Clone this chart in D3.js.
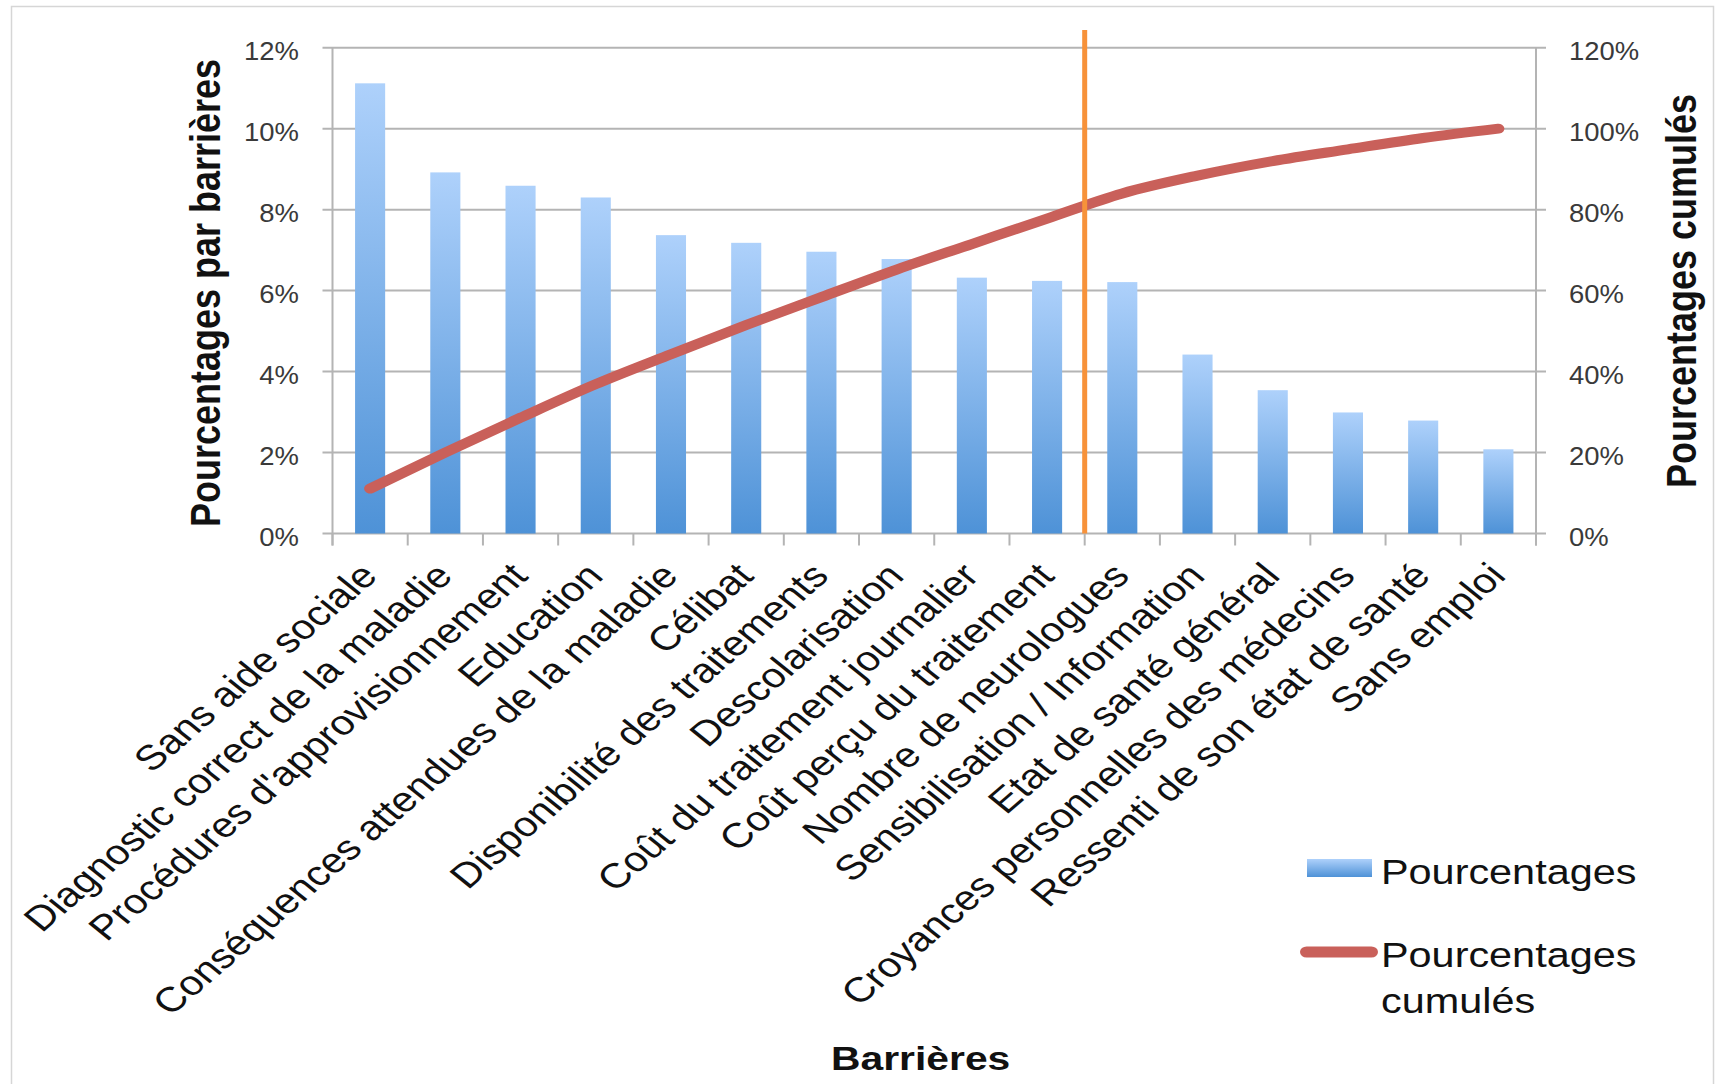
<!DOCTYPE html>
<html><head><meta charset="utf-8">
<script src="https://cdn.jsdelivr.net/npm/d3@7"></script>
<style>html,body{margin:0;padding:0;background:#fff;} svg{display:block}</style>
</head><body>
<svg id="chart" width="1718" height="1084"></svg>
<script>
const categories = [
  "Sans aide sociale",
  "Diagnostic correct de la maladie",
  "Procédures d'approvisionnement",
  "Education",
  "Conséquences attendues de la maladie",
  "Célibat",
  "Disponibilité des traitements",
  "Descolarisation",
  "Coût du traitement journalier",
  "Coût perçu du traitement",
  "Nombre de neurologues",
  "Sensibilisation / Information",
  "Etat de santé général",
  "Croyances personnelles des médecins",
  "Ressenti de son état de santé",
  "Sans emploi"
];
const percentages = [11.12, 8.92, 8.59, 8.30, 7.37, 7.18, 6.96, 6.78, 6.32, 6.24, 6.21, 4.42, 3.54, 2.99, 2.79, 2.08];
const cumulative = [11.1, 20.0, 28.6, 36.9, 44.3, 51.5, 58.4, 65.2, 71.5, 77.8, 84.0, 88.4, 92.0, 94.9, 97.7, 100];
const leftTicks = [0, 2, 4, 6, 8, 10, 12];
const rightTicks = [0, 20, 40, 60, 80, 100, 120];
const cutoffIndex = 10;
const xTitle = "Barrières";
const leftTitle = "Pourcentages par barrières";
const rightTitle = "Pourcentages cumulés";
const legendBar = "Pourcentages";
const legendLine = ["Pourcentages", "cumulés"];

const S = 1.2;
const svg = d3.select("#chart");
const defs = svg.append("defs");
const grad = defs.append("linearGradient").attr("id", "barGrad")
  .attr("x1", 0).attr("y1", 0).attr("x2", 0).attr("y2", 1);
grad.append("stop").attr("offset", "0%").attr("stop-color", "#aed1fb");
grad.append("stop").attr("offset", "100%").attr("stop-color", "#4e92d7");

svg.append("rect").attr("x", 11.5).attr("y", 6.5).attr("width", 1702).attr("height", 1100)
  .attr("fill", "none").attr("stroke", "#d6d6d6").attr("stroke-width", 1.5);

const g = svg.append("g").attr("transform", `scale(${S},1)`);
const X0 = 332.5 / S, X1 = 1536 / S, Y0 = 533.5, Y1 = 47.7;
const xCat = d3.scaleBand().domain(categories).range([X0, X1]).padding(0);
const xBar = d3.scaleBand().domain(categories).range([X0, X1]).paddingInner(0.6).paddingOuter(0.3);
const yL = d3.scaleLinear().domain([0, 12]).range([Y0, Y1]);
const yR = d3.scaleLinear().domain([0, 120]).range([Y0, Y1]);
const gridCol = "#b4b4b4";

// gridlines
g.append("g").selectAll("line").data(leftTicks).join("line")
  .attr("x1", X0 - 10 / S).attr("x2", X1 + 10 / S)
  .attr("y1", d => yL(d)).attr("y2", d => yL(d))
  .attr("stroke", gridCol).attr("stroke-width", 2);

// axis lines
[X0, X1].forEach(x => {
  g.append("line").attr("x1", x).attr("x2", x).attr("y1", Y1).attr("y2", Y0 + 12)
    .attr("stroke", gridCol).attr("stroke-width", 2 / S);
});
// bottom ticks
const bounds = categories.map(c => xCat(c)).concat([X1]);
g.append("g").selectAll("line").data(bounds).join("line")
  .attr("x1", d => d).attr("x2", d => d).attr("y1", Y0).attr("y2", Y0 + 12)
  .attr("stroke", gridCol).attr("stroke-width", 2 / S);

// tick labels
const tickFont = "'Liberation Sans',Arial,sans-serif";
const la = g.append("g").attr("transform", `translate(${X0},0)`)
  .call(d3.axisLeft(yL).tickValues(leftTicks).tickFormat(d => d + "%").tickSize(0).tickPadding((332.5 - 299) / S));
const ra = g.append("g").attr("transform", `translate(${X1},0)`)
  .call(d3.axisRight(yR).tickValues(rightTicks).tickFormat(d => d + "%").tickSize(0).tickPadding((1569 - 1536) / S));
[la, ra].forEach(a => {
  a.select(".domain").remove();
  a.selectAll("text").attr("font-family", tickFont).attr("font-size", 26)
    .attr("fill", "#3a3a3a").attr("dy", "0.45em")
    .each(function () {
      const L = this.getComputedTextLength();
      d3.select(this).attr("textLength", L * 0.88).attr("lengthAdjust", "spacingAndGlyphs");
    });
});

// bars
g.append("g").selectAll("rect").data(percentages).join("rect")
  .attr("x", (d, i) => xBar(categories[i]))
  .attr("width", xBar.bandwidth())
  .attr("y", d => yL(d))
  .attr("height", d => Y0 - yL(d))
  .attr("fill", "url(#barGrad)");

// cumulative line
const line = d3.line()
  .x((d, i) => xCat(categories[i]) + xCat.bandwidth() / 2)
  .y(d => yR(d))
  .curve(d3.curveMonotoneX);
g.append("path").datum(cumulative).attr("d", line)
  .attr("fill", "none").attr("stroke", "#c9605a").attr("stroke-width", 10)
  .attr("stroke-linecap", "round").attr("stroke-linejoin", "round");

// cutoff line
const cx = xCat(categories[cutoffIndex]);
g.append("line").attr("x1", cx).attr("x2", cx).attr("y1", 30).attr("y2", Y0)
  .attr("stroke", "#f7923a").attr("stroke-width", 5 / S);

// x labels
const font = "'Liberation Sans',Arial,Helvetica,sans-serif";
g.append("g").selectAll("text").data(categories).join("text")
  .attr("transform", c => `translate(${xCat(c) + xCat.bandwidth() / 2 + 9 / S},${Y0 + 44}) rotate(-46)`)
  .attr("text-anchor", "end")
  .attr("font-family", font).attr("font-size", 34.8).attr("fill", "#111")
  .text(c => c);

// x title
g.append("text").attr("x", 920.7 / S).attr("y", 1070).attr("text-anchor", "middle")
  .attr("font-family", font).attr("font-weight", "bold").attr("font-size", 34).attr("fill", "#111")
  .text(xTitle);

// y titles
g.append("text").attr("transform", `translate(${220 / S},293) rotate(-90)`).attr("text-anchor", "middle")
  .attr("font-family", font).attr("font-weight", "bold").attr("font-size", 36).attr("fill", "#111")
  .text(leftTitle);
g.append("text").attr("transform", `translate(${1696 / S},291) rotate(-90)`).attr("text-anchor", "middle")
  .attr("font-family", font).attr("font-weight", "bold").attr("font-size", 36).attr("fill", "#111")
  .text(rightTitle);

// legend
const lg = g.append("g");
lg.append("rect").attr("x", 1307 / S).attr("y", 859).attr("width", 65 / S).attr("height", 18)
  .attr("fill", "url(#barGrad)");
lg.append("text").attr("x", 1381 / S).attr("y", 884)
  .attr("font-family", font).attr("font-size", 34.5).attr("fill", "#111").text(legendBar);
lg.append("line").attr("x1", (1300 + 6.6) / S).attr("x2", (1378 - 6.6) / S).attr("y1", 952).attr("y2", 952)
  .attr("stroke", "#c9605a").attr("stroke-width", 11).attr("stroke-linecap", "round");
lg.append("text").attr("x", 1381 / S).attr("y", 967)
  .attr("font-family", font).attr("font-size", 34.5).attr("fill", "#111")
  .selectAll("tspan").data(legendLine).join("tspan")
  .attr("x", 1381 / S).attr("dy", (d, i) => i === 0 ? 0 : 46).text(d => d);
</script>
</body></html>
